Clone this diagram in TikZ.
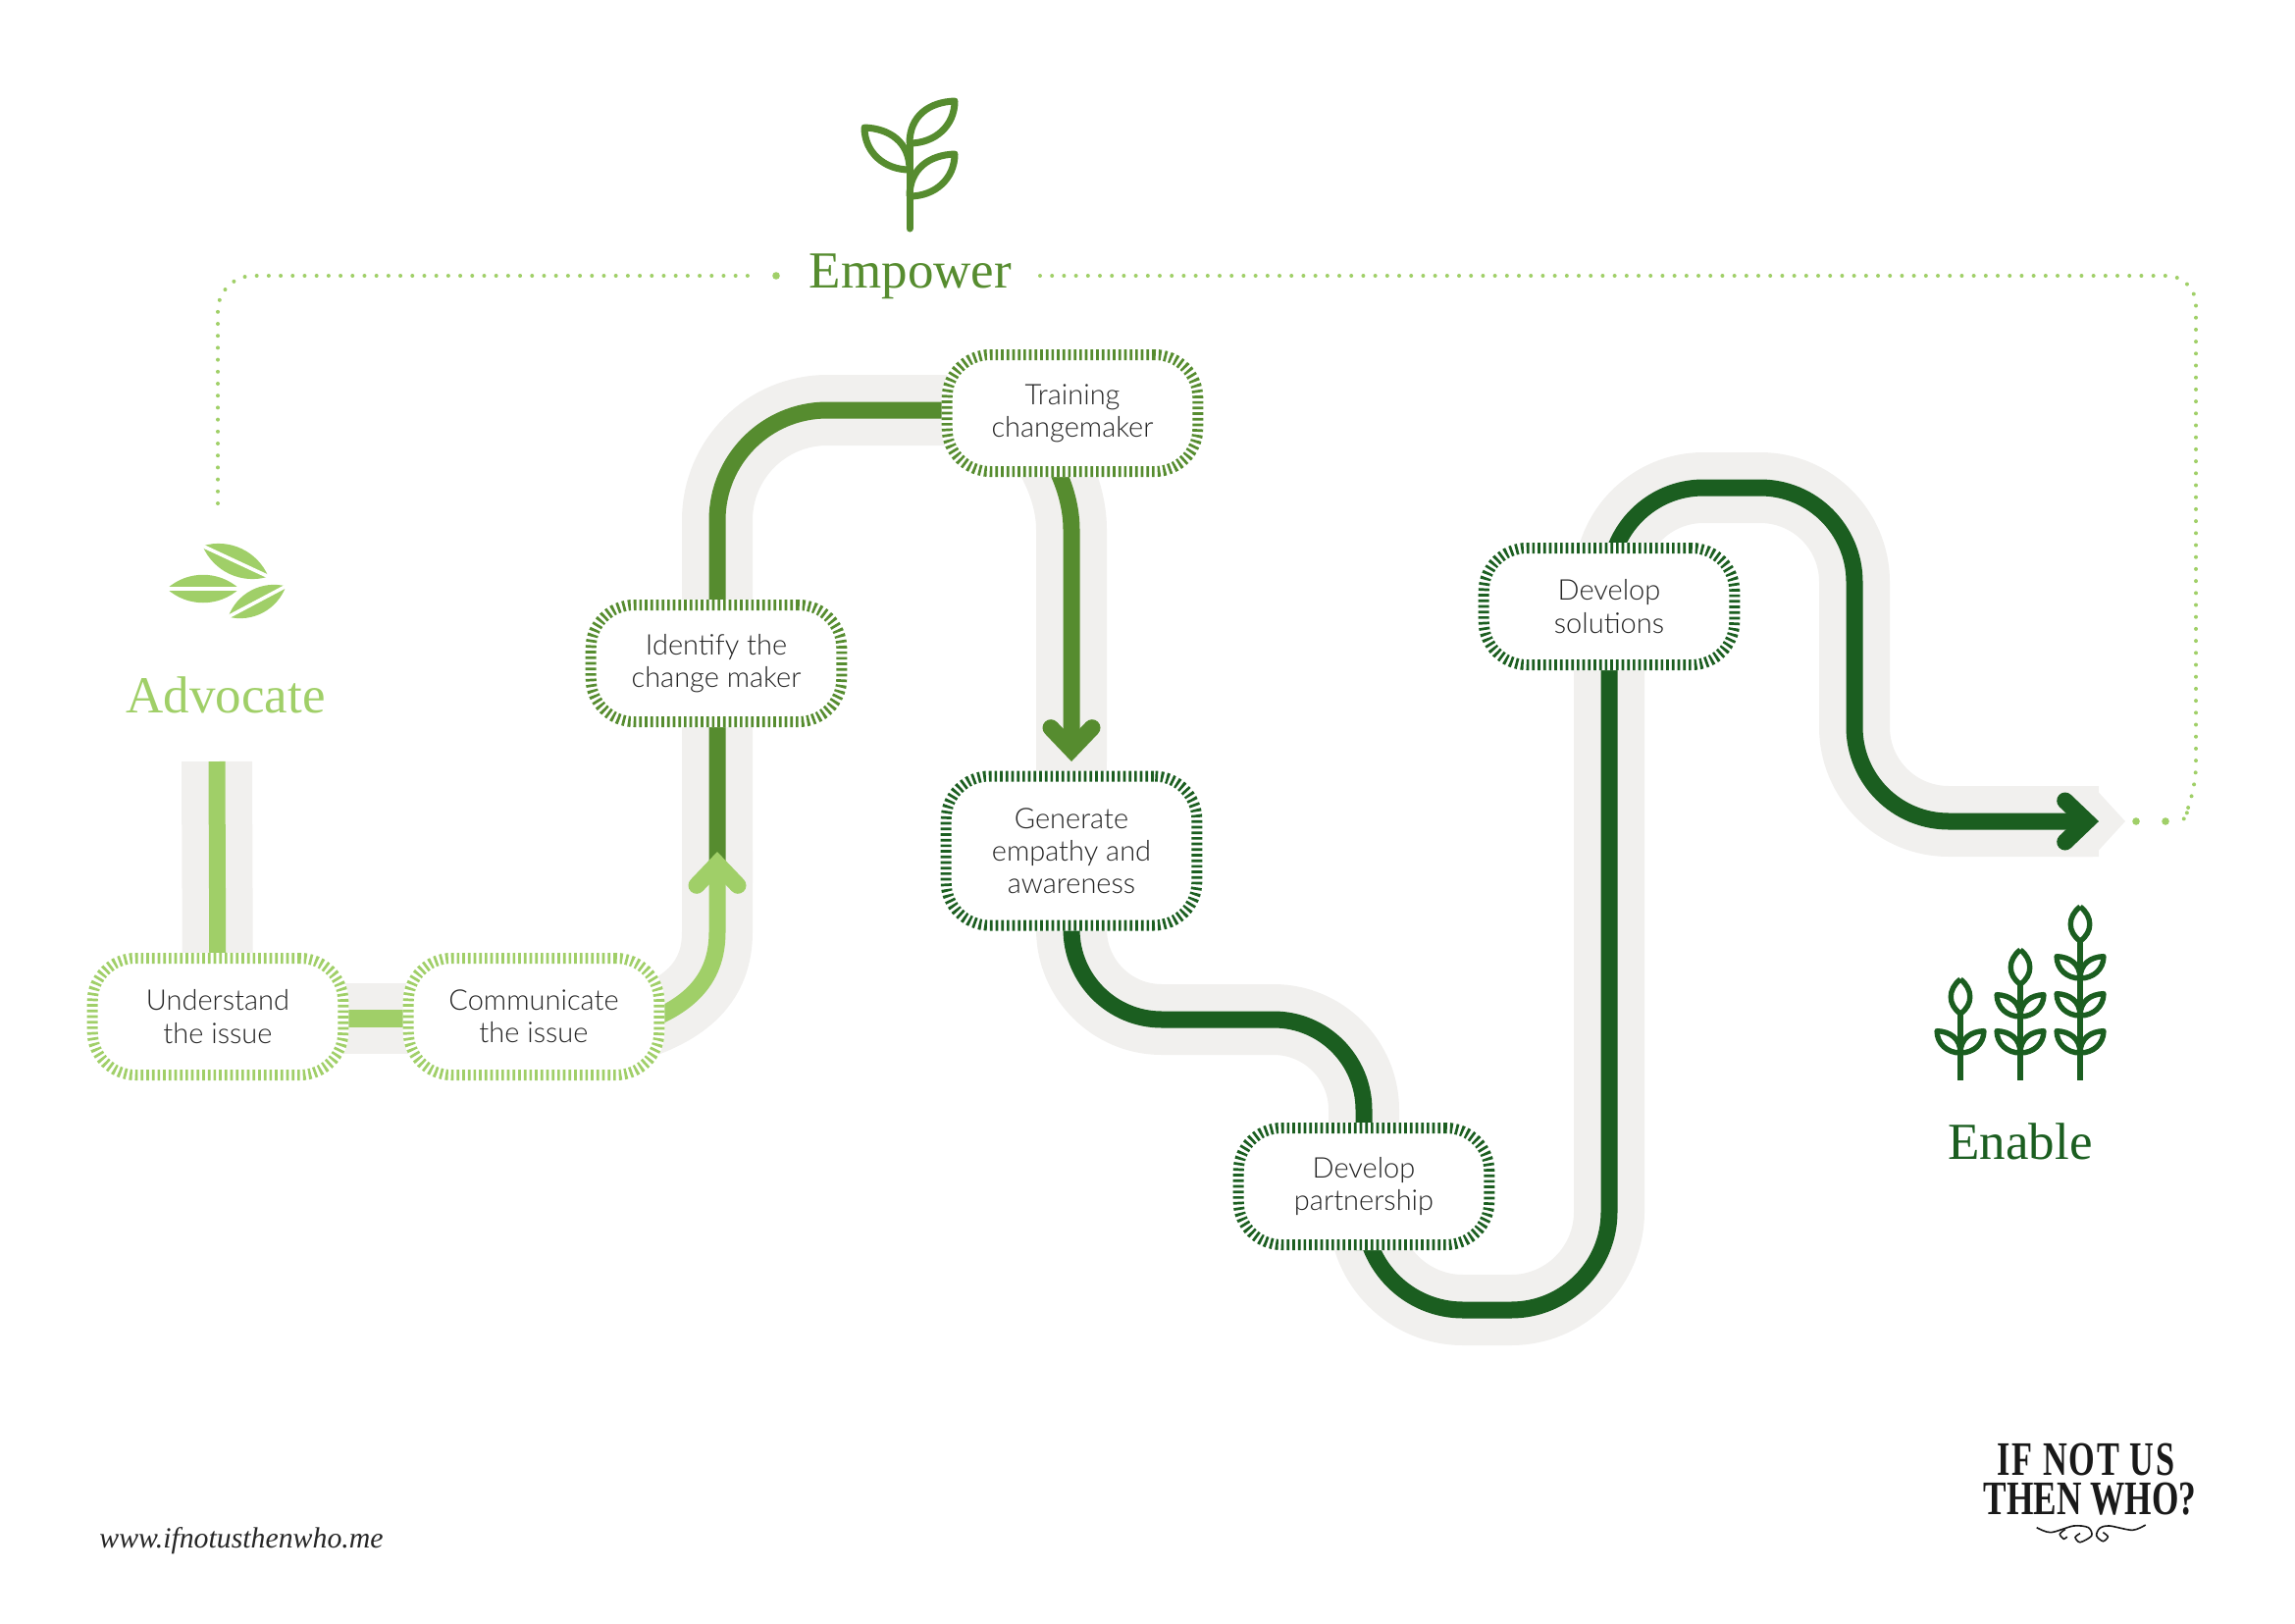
\documentclass[tikz,border=0pt]{standalone}
\usepackage{fontspec}
\usetikzlibrary{calc,arrows.meta,backgrounds}
\newfontfamily\stepfont{Lato Light}
\newfontfamily\headfont{Liberation Serif}
\newfontfamily\logofont[FakeStretch=0.72]{Liberation Serif}
\newfontfamily\logowide[FakeStretch=0.7,LetterSpace=4]{Liberation Serif}
\definecolor{leaflight}{HTML}{A0CF68}
\definecolor{leafmid}{HTML}{568C2F}
\definecolor{leafdark}{HTML}{1B5E20}
\definecolor{bandgrey}{HTML}{F1F0EE}
\definecolor{labelgrey}{HTML}{242424}
\newcommand{\trailA}{(advtop) -- (und)}
\newcommand{\trailB}{($(und)+(0,2)$) -- ($(com)+(0,2)$)}
\newcommand{\trailC}{(comout) .. controls (700,1030) and (731,1000) .. (731,950) -- (arrowC)}
\newcommand{\trailD}{[rounded corners=56pt] (731,900) |- ($(tra)+(0,-3)$)}
\newcommand{\trailE}{(traout) .. controls (1072,465) and (1092,500) .. (1092,540) -- (arrowE)}
\newcommand{\trailEb}{(arrowE) -- (gen)}
\newcommand{\trailF}{[rounded corners=46pt] (gen) |- ($(par)+(0,-170)$) -- (par)}
\newcommand{\trailG}{[rounded corners=50pt] (par) -- (1391,1335) -- (1640,1335) -- (1640,618)}
\newcommand{\trailH}{[rounded corners=48pt] (1640,618) -- (1640,497) -- (1890,497) -- (1890,837) -- (arrowH)}
\tikzset{
  leaf/.pic={\draw[pic actions, line join=round] (0,0) .. controls (0,-28) and (20,-42) .. (46,-43)
      .. controls (46,-18) and (26,0) .. (0,0);},
  bud/.pic={\draw[pic actions, line join=round] (0,0) .. controls (-13,10) and (-13,26) .. (0,35)
      .. controls (13,26) and (13,10) .. (0,0);},
  seed/.pic={\fill[leaflight] (-37,0) .. controls (-16,-19) and (16,-19) .. (37,0)
      .. controls (16,19) and (-16,19) .. (-37,0);
    \draw[white, line width=1.8pt] (-39,0) -- (39,0);}
}
\begin{document}
\begin{tikzpicture}[x=0.5pt, y=-0.5pt,
    stepbox/.style={draw, rectangle, rounded corners=22pt, minimum width=127.8pt, minimum height=59.5pt,
      line width=5.5pt, dash pattern=on 1.35pt off 1.5pt, fill=white,
      preaction={draw=white, solid, line width=5.5pt},
      inner sep=0pt, align=center, text=labelgrey, font=\stepfont\fontsize{14.5}{16.6}\selectfont},
    headtext/.style={anchor=base, inner sep=0pt, font=\headfont\fontsize{26.5}{30}\selectfont},
    logotext/.style={anchor=base, inner sep=0pt, text=black!90},
    band/.style={draw=bandgrey, line width=36pt},
    trail/.style={line width=8.5pt},
    tip/.style={-{Straight Barb[line cap=round, line join=miter, length=11pt, width=21pt]}},
    dots/.style={draw=leaflight, line width=2pt, line cap=round, dash pattern=on 0pt off 6.1pt}]
  \useasboundingbox (0,0) rectangle (2339,1654);
  % Steps
  \node[stepbox, draw=leaflight] (und) at (222,1036) {Understand\\the issue};
  \node[stepbox, draw=leaflight] (com) at (544,1036) {Communicate\\the issue};
  \node[stepbox, draw=leafmid] (ide) at (730,676) {Identify the\\change maker};
  \node[stepbox, draw=leafmid] (tra) at (1093,421) {Training\\changemaker};
  \node[stepbox, draw=leafdark, minimum height=76pt] (gen) at (1092,867) {Generate\\empathy and\\awareness};
  \node[stepbox, draw=leafdark] (par) at (1390,1209) {Develop\\partnership};
  \node[stepbox, draw=leafdark] (sol) at (1640,618) {Develop\\solutions};
  % Route points
  \coordinate (advtop) at (221,776);
  \coordinate (comout) at ($(com.east)+(-40,12)$);
  \coordinate (arrowC) at (731,868);
  \coordinate (traout) at (1055,440);
  \coordinate (arrowE) at (1092,776);
  \coordinate (arrowH) at (2139,837);
  % Trails, grey band under each line
  \begin{scope}[on background layer]
    \foreach \route in {\trailA,\trailB,\trailC,\trailD,\trailE,\trailEb,\trailF,\trailG,\trailH}{
      \draw[band] \route;
    }
    \fill[bandgrey] (2100,801) -- (2133,801) -- (2166,837) -- (2133,873) -- (2100,873) -- cycle;
    \draw[trail, leaflight] \trailA;
    \draw[trail, leaflight, line width=9pt] \trailB;
    \draw[trail, leafmid] \trailD;
    \draw[trail, leaflight, tip] \trailC;
    \draw[trail, leafmid, tip] \trailE;
    \draw[trail, leafdark] \trailF;
    \draw[trail, leafdark] \trailG;
    \draw[trail, leafdark, tip] \trailH;
  \end{scope}
  % Headings
  \node[headtext, text=leaflight] (advo) at (230,726) {Advocate};
  \node[headtext, text=leafmid] (empo) at (928,293) {Empower};
  \node[headtext, text=leafdark] (enab) at (2059,1181) {Enable};
  % Dotted loop
  \coordinate (dotA) at (222,513);
  \coordinate (dotB) at (768,281);
  \coordinate (dotC) at (1060,281);
  \coordinate (dotD) at (2231,824);
  \draw[dots, rounded corners=18pt] (dotA) -- (222,281) -- (dotB);
  \fill[leaflight] (791,281) circle[radius=3.8];
  \draw[dots, rounded corners=15pt] (dotC) -- (2238,281) -- (2238,810) -- (dotD);
  \fill[leaflight] (2207,837) circle[radius=3.8];
  \fill[leaflight] (2177,837) circle[radius=3.8];
  % Advocate seeds
  \pic[rotate=-25] at (240,572) {seed};
  \pic at (207,600) {seed};
  \pic[rotate=28, scale=.9] at (262,613) {seed};
  % Empower sprout
  \draw[leafmid, line width=3.5pt, line cap=round] (927,233) -- (927,144);
  \pic[leafmid, line width=3.5pt] at (927,146) {leaf};
  \pic[leafmid, line width=3.5pt, xscale=-1] at (927,173) {leaf};
  \pic[leafmid, line width=3.5pt] at (927,200) {leaf};
  % Enable plants
  \foreach \sx/\sy/\rows in {1998/998/{1073}, 2059/968/{1073,1036}, 2120/924/{1073,1035,997}}{
    \draw[leafdark, line width=2.7pt] (\sx,1101) -- ($(\sx,\sy)+(0,36)$);
    \pic[leafdark, line width=2.7pt] at (\sx,\sy) {bud};
    \foreach \ry in \rows{
      \pic[leafdark, line width=2.7pt, scale=.52] at (\sx,\ry) {leaf};
      \pic[leafdark, line width=2.7pt, xscale=-.52, yscale=.52] at (\sx,\ry) {leaf};
    }
  }
  % Logo and address
  \node[logotext, font=\logowide\bfseries\fontsize{24.5}{26}\selectfont] (logoa) at (2126,1503) {IF NOT US};
  \node[logotext, font=\logofont\bfseries\fontsize{24.5}{26}\selectfont] (logob) at (2130,1543) {THEN WHO?};
  \begin{scope}[shift={(1980,1440)}, xscale=1/3, yscale=1/3]
    \draw[black!90, line width=.8pt] plot[smooth] coordinates {(287,350) (330,365) (400,345) (445,350) (455,375) (420,395) (405,380) (420,368)};
    \draw[black!90, line width=.8pt] plot[smooth] coordinates {(375,355) (358,370) (370,385) (380,378)};
    \draw[black!90, line width=.8pt] plot[smooth] coordinates {(620,342) (580,358) (510,345) (480,352) (470,375) (490,392) (505,378) (490,365)};
  \end{scope}
  \node[anchor=base west, inner sep=0pt, text=black!85, font=\headfont\itshape\fontsize{14.9}{17}\selectfont] (addr) at (101,1577) {www.ifnotusthenwho.me};
\end{tikzpicture}
\end{document}
